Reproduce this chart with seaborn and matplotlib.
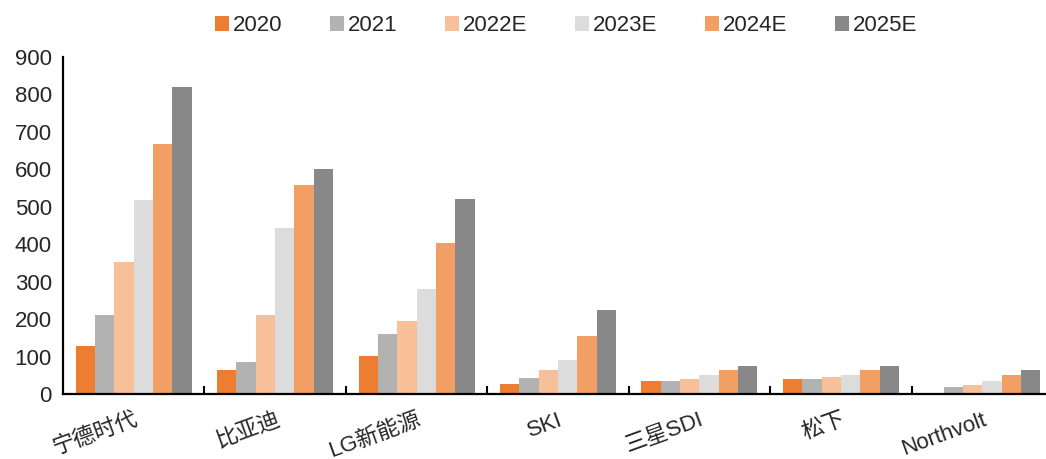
import numpy as np
import pandas as pd
import matplotlib
matplotlib.use('Agg')
import matplotlib.pyplot as plt
import seaborn as sns

# 데이터
companies = ['宁德时代', '比亚迪', 'LG新能源', 'SKI', '三星SDI', '松下', 'Northvolt']
years = ['2020', '2021', '2022E', '2023E', '2024E', '2025E']
v2020 = [127, 64, 101, 27, 36, 41, 0]
v2021 = [212, 85, 159, 42, 36, 41, 19]
v2022 = [352, 212, 196, 64, 41, 46, 25]
v2023 = [517, 442, 281, 90, 52, 52, 36]
v2024 = [667, 558, 403, 154, 63, 63, 52]
v2025 = [821, 600, 521, 223, 74, 74, 63]
colors = ['#ED7D31', '#B2B2B2', '#F8C098', '#DCDCDC', '#F29F65', '#888888']

rows = []
for y, vals in zip(years, [v2020, v2021, v2022, v2023, v2024, v2025]):
    for c, v in zip(companies, vals):
        rows.append({'company': c, 'year': y, 'value': v})
df = pd.DataFrame(rows)

sns.set_style('white')
plt.rcParams['font.family'] = ['Liberation Sans', 'Noto Sans CJK SC', 'DejaVu Sans']

fig = plt.figure(figsize=(10.46, 4.59), dpi=100)
ax = fig.add_axes([63 / 1046, 65 / 459, 990 / 1046, 337 / 459])

sns.barplot(data=df, x='company', y='value', hue='year', order=companies,
            hue_order=years, palette=colors, width=0.82, gap=0,
            saturation=1, linewidth=0, edgecolor='none', ax=ax, legend=True)

ax.set_ylim(0, 900)
ax.set_xlim(-0.5, 6.5)
ax.set_yticks(range(0, 901, 100))
ax.set_xlabel('')
ax.set_ylabel('')
for s in ['top', 'right']:
    ax.spines[s].set_visible(False)
for s in ['left', 'bottom']:
    ax.spines[s].set_color('black')
    ax.spines[s].set_linewidth(1.6)

ax.tick_params(axis='y', direction='in', length=5, width=1.5, labelsize=16, pad=8)
ax.tick_params(axis='x', which='major', length=0, labelsize=16, pad=11)
ax.set_xticks(np.arange(0.5, 6.5, 1), minor=True)
ax.tick_params(axis='x', which='minor', direction='in', length=6, width=1.5,
               bottom=True, color='black')
plt.setp(ax.get_xticklabels(), rotation=20, ha='right', rotation_mode='anchor')

handles, labels = ax.get_legend_handles_labels()
ax.get_legend().remove()
fig.legend(handles, labels, loc='upper center', bbox_to_anchor=(0.541, 1.01),
           ncol=6, frameon=False, fontsize=16, handlelength=0.65,
           handleheight=0.65, handletextpad=0.15, columnspacing=2.15)

fig.savefig('out.png', dpi=100)
